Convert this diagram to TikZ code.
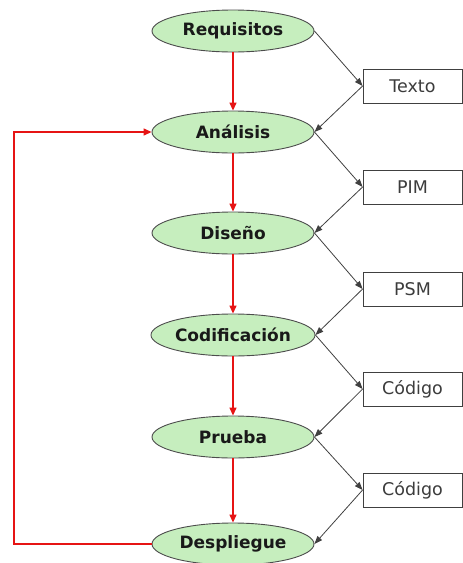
\documentclass[tikz,border=0pt]{standalone}
\usepackage{fontspec}
\setmainfont{DejaVu Sans}
\usetikzlibrary{shapes.geometric,arrows.meta}
\definecolor{phasefill}{RGB}{198,238,190}
\definecolor{redline}{RGB}{230,20,20}
\definecolor{boxtext}{RGB}{60,60,60}
\tikzset{
  phase/.style={ellipse, draw=black!70, line width=0.9pt, fill=phasefill,
    minimum width=162pt, minimum height=42pt, inner sep=0pt,
    font=\fontsize{17}{19}\selectfont\bfseries, text=black!90},
  artifact/.style={rectangle, draw=black!75, line width=0.8pt, fill=white,
    minimum width=99pt, minimum height=34pt, inner sep=0pt,
    font=\fontsize{17.5}{19}\selectfont, text=boxtext},
  flow/.style={draw=redline, line width=1.4pt, -{Triangle[length=8pt,width=7pt]}},
  link/.style={draw=black!75, line width=0.8pt, -{Triangle[length=8pt,width=6pt]}}
}
\begin{document}
\begin{tikzpicture}[x=1pt,y=-1pt]
\useasboundingbox (0,0) rectangle (463,563);
\node[phase] (req) at (233,31) {Requisitos};
\node[phase] (ana) at (233,132) {Análisis};
\node[phase] (dis) at (233,233) {Diseño};
\node[phase] (cod) at (233,335) {Codificación};
\node[phase] (pru) at (233,437) {Prueba};
\node[phase] (des) at (233,544) {Despliegue};

\node[artifact] (t1) at (412.5,86) {Texto};
\node[artifact] (t2) at (412.5,187) {PIM};
\node[artifact] (t3) at (412.5,289) {PSM};
\node[artifact] (t4) at (412.5,389) {Código};
\node[artifact] (t5) at (412.5,490) {Código};

\draw[flow] (req) -- (ana);
\draw[flow] (ana) -- (dis);
\draw[flow] (dis) -- (cod);
\draw[flow] (cod) -- (pru);
\draw[flow] (pru) -- (des);
\coordinate (fb1) at (14,544);
\coordinate (fb2) at (14,132);
\draw[flow] (des.west) -- (fb1) -- (fb2) -- (ana.west);

\draw[link] (req.east) -- (t1.west);
\draw[link] (t1.west) -- (ana.east);
\draw[link] (ana.east) -- (t2.west);
\draw[link] (t2.west) -- (dis.east);
\draw[link] (dis.east) -- (t3.west);
\draw[link] (t3.west) -- (cod.east);
\draw[link] (cod.east) -- (t4.west);
\draw[link] (t4.west) -- (pru.east);
\draw[link] (pru.east) -- (t5.west);
\draw[link] (t5.west) -- (des.east);
\end{tikzpicture}
\end{document}
